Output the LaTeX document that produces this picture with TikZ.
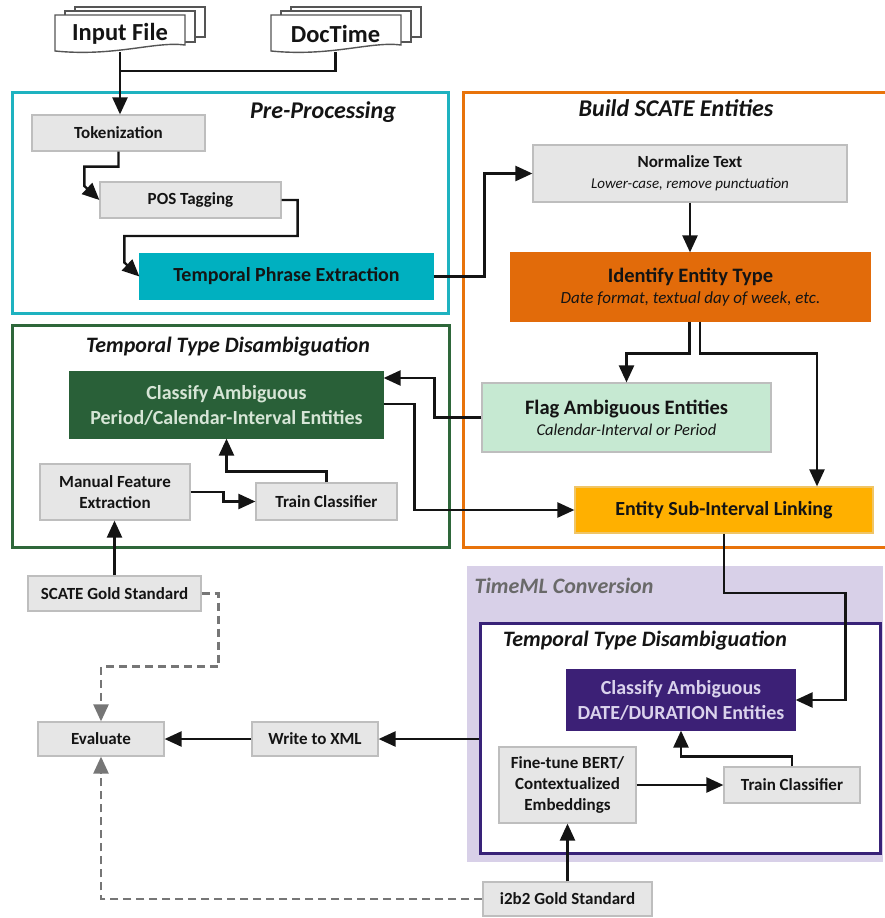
\documentclass[tikz,border=0pt]{standalone}
\usepackage{fontspec}
\setmainfont{Carlito}
\usetikzlibrary{arrows.meta,calc}

\definecolor{cyanline}{RGB}{30,178,192}
\definecolor{tealfill}{RGB}{0,176,192}
\definecolor{orangeline}{RGB}{232,115,10}
\definecolor{orangefill}{RGB}{226,107,10}
\definecolor{amberfill}{RGB}{255,176,0}
\definecolor{mintfill}{RGB}{198,233,210}
\definecolor{greenline}{RGB}{46,103,58}
\definecolor{greenfill}{RGB}{41,96,56}
\definecolor{greentext}{RGB}{214,229,214}
\definecolor{lavender}{RGB}{216,208,232}
\definecolor{purpleline}{RGB}{56,34,120}
\definecolor{purplefill}{RGB}{60,32,118}
\definecolor{purpletext}{RGB}{218,210,236}
\definecolor{boxfill}{RGB}{230,230,230}
\definecolor{boxline}{RGB}{190,190,190}
\definecolor{ink}{RGB}{20,20,20}
\definecolor{dashgray}{RGB}{118,118,118}
\definecolor{titlegray}{RGB}{105,105,105}
\definecolor{sheetline}{RGB}{85,85,85}

\newcommand\fsz[2]{\fontsize{#1}{#2}\selectfont}

% stack of three document sheets; #1,#2 = top left corner of the front sheet
\newcommand\docsheets[2]{%
  \begin{scope}[shift={(#1,#2)}, draw=sheetline, line width=1.4pt, fill=white]
    \filldraw (20,-8) rectangle (150,22);
    \filldraw (10,-4) rectangle (140,27);
    \filldraw (0,0) -- (130,0) -- (130,30)
      .. controls (100,26) and (60,42) .. (0,36) -- cycle;
  \end{scope}}

\begin{document}
\begin{tikzpicture}[x=1pt, y=-1pt,
  box/.style={draw=boxline, line width=1.2pt, fill=boxfill, inner sep=0pt,
    align=center, text=ink, font=\fsz{17}{21}\bfseries},
  panel/.style={line width=3pt, inner sep=0pt},
  paneltitle/.style={text=ink, inner sep=0pt, font=\bfseries\itshape},
  doctext/.style={inner sep=0pt, text=ink, font=\fsz{24.5}{28}\bfseries},
  conn/.style={draw=ink, line width=2.4pt, -{Triangle[length=17pt,width=15pt]}},
  link/.style={draw=ink, line width=2.4pt},
  goldlink/.style={draw=dashgray, line width=2.4pt, dash pattern=on 8pt off 5pt,
    -{Triangle[length=17pt,width=15pt]}}
]
\useasboundingbox (0,0) rectangle (884,918);

% ---------- panels ----------
\node[panel, draw=cyanline, minimum width=436pt, minimum height=221pt] (pre) at (230,202.5) {};
\draw[orangeline, line width=3pt] (886,92) -| (463,547) -- (886,547);
\node[panel, draw=greenline, minimum width=437pt, minimum height=222pt] (ttd) at (230.5,436) {};
\node[panel, line width=0pt, fill=lavender, minimum width=416pt, minimum height=296pt] (tml) at (675,714) {};
\node[panel, draw=purpleline, fill=white, minimum width=400pt, minimum height=230pt] (inner) at (680,738) {};

\node[paneltitle, font=\fsz{24}{28}\bfseries\itshape] (preT) at (323,112) {Pre-Processing};
\node[paneltitle, font=\fsz{24}{28}\bfseries\itshape] (buildT) at (676,108) {Build SCATE Entities};
\node[paneltitle, font=\fsz{22}{26}\bfseries\itshape] (ttdT) at (228,347) {Temporal Type Disambiguation};
\node[paneltitle, text=titlegray, font=\fsz{22}{26}\bfseries\itshape] (tmlT) at (564,586) {TimeML Conversion};
\node[paneltitle, font=\fsz{22}{26}\bfseries\itshape] (innerT) at (645,641) {Temporal Type Disambiguation};

% ---------- input documents ----------
\docsheets{55}{15}
\docsheets{271}{15}
\node[doctext, minimum width=130pt, minimum height=37pt] (inp) at (120,33.5) {Input File};
\node[doctext, minimum width=129pt, minimum height=37pt] (doc) at (335.5,33.5) {DocTime};

% ---------- process boxes ----------
\node[box, minimum width=173pt, minimum height=36pt] (tok) at (118.5,133) {Tokenization};
\node[box, minimum width=181pt, minimum height=36pt] (pos) at (190.5,200) {POS Tagging};
\node[box, draw=tealfill, fill=tealfill, minimum width=293pt, minimum height=45pt,
  font=\fsz{20}{24}\bfseries] (tpe) at (286.5,276.5) {Temporal Phrase Extraction};

\node[box, minimum width=314pt, minimum height=57pt] (norm) at (690,173.5)
  {\fsz{17}{19}\bfseries Normalize Text\\\fsz{15}{19}\mdseries\itshape Lower-case, remove punctuation};
\node[box, draw=orangefill, fill=orangefill, minimum width=359pt, minimum height=68pt] (ident) at (690.5,287)
  {\fsz{20.5}{22}\bfseries Identify Entity Type\\\fsz{17}{22}\mdseries\itshape Date format, textual day of week, etc.};
\node[box, fill=mintfill, minimum width=289pt, minimum height=69pt] (flag) at (626.5,417.5)
  {\fsz{20.5}{22}\bfseries Flag Ambiguous Entities\\\fsz{16.5}{22}\mdseries\itshape Calendar-Interval or Period};
\node[box, draw=amberfill!90!black!60, fill=amberfill, minimum width=298pt, minimum height=46pt,
  font=\fsz{20}{24}\bfseries] (esil) at (724,510) {Entity Sub-Interval Linking};

\node[box, draw=greenfill, fill=greenfill, text=greentext, minimum width=313pt, minimum height=66pt,
  font=\fsz{20}{25}\bfseries] (clsP) at (226.5,405) {Classify Ambiguous\\Period/Calendar-Interval Entities};
\node[box, minimum width=150pt, minimum height=56pt] (mfe) at (115,492) {Manual Feature\\Extraction};
\node[box, minimum width=141pt, minimum height=37pt] (tc1) at (326.5,501.5) {Train Classifier};
\node[box, minimum width=173pt, minimum height=35pt] (scate) at (114.5,593.5) {SCATE Gold Standard};

\node[box, minimum width=126pt, minimum height=34pt] (eval) at (101,739) {Evaluate};
\node[box, minimum width=126pt, minimum height=34pt] (xml) at (315,739) {Write to XML};

\node[box, draw=purplefill, fill=purplefill, text=purpletext, minimum width=228pt, minimum height=60pt,
  font=\fsz{20}{25}\bfseries] (clsD) at (681,700) {Classify Ambiguous\\DATE/DURATION Entities};
\node[box, minimum width=137pt, minimum height=76pt] (bert) at (567.5,785) {Fine-tune BERT/\\Contextualized\\Embeddings};
\node[box, minimum width=136pt, minimum height=36pt] (tc2) at (792,785) {Train Classifier};
\node[box, minimum width=169pt, minimum height=34pt] (i2b2) at (567.5,899) {i2b2 Gold Standard};

% ---------- connectors ----------
\draw[conn] (inp.south) -- (inp.south |- tok.north);
\draw[link] (doc.south) -- ++(0,19) -| (inp.south);
\draw[conn] (tok.south) -- ++(0,15) -| ($(pos.west)+(-15,-14)$) -- (pos.west);
\draw[conn] (pos.east) -- ++(16,0) -- ++(0,36) -| ($(tpe.west)+(-15,-14)$) -- (tpe.west);
\draw[conn] (tpe.east) -- ++(51,0) |- (norm.west);
\draw[conn] (norm.south) -- (norm.south |- ident.north);
\draw[conn] ($(ident.south)+(-1,0)$) -- ++(0,32) -| (flag.north);
\draw[conn] ($(ident.south)+(9.5,0)$) -- ++(0,32) -| ($(esil.north)+(93,0)$);
\draw[conn] (flag.west) -- ++(-47,0) |- ($(clsP.east)+(0,-27)$);
\draw[conn] ($(clsP.east)+(0,-1)$) -- ++(31,0) |- (esil.west);
\draw[conn] (mfe.east) -- ++(33,0) |- (tc1.west);
\draw[conn] (tc1.north) -- ++(0,-11) -| (clsP.south);
\draw[conn] (scate.north) -- (scate.north |- mfe.south);
\draw[goldlink] (scate.east) -| ($(scate.east)+(17,73)$) -| (eval.north);
\draw[conn] (xml.west) -- (eval.east);
\draw[conn] (xml.east -| inner.west) -- (xml.east);
\draw[conn] (esil.south) |- ($(clsD.east)+(50,-107)$) |- (clsD.east);
\draw[conn] (bert.east) -- (tc2.west);
\draw[conn] (tc2.north) -- ++(0,-10) -| (clsD.south);
\draw[conn] (i2b2.north) -- (bert.south);
\draw[goldlink] (i2b2.west) -| (eval.south);
\end{tikzpicture}
\end{document}
